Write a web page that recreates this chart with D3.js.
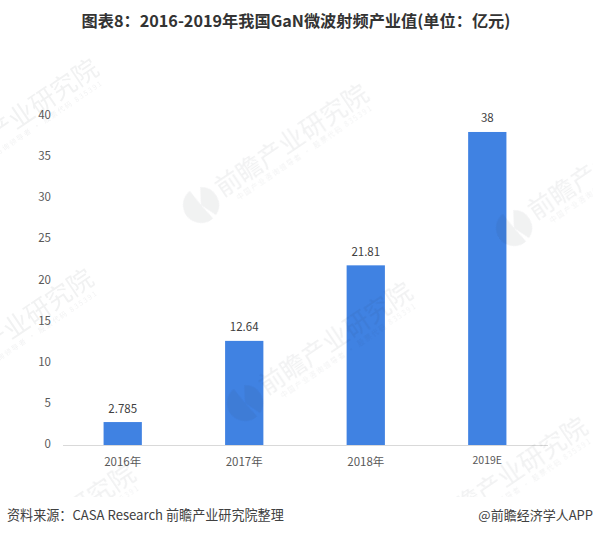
<!DOCTYPE html>
<html><head><meta charset="utf-8">
<script src="https://cdn.jsdelivr.net/npm/d3@7/dist/d3.min.js"></script>
<style>html,body{margin:0;padding:0;background:#fff}svg{display:block}
text{font-family:"Noto Sans CJK SC","Noto Sans",sans-serif}</style></head><body>
<svg id="c" width="593" height="536"></svg>
<script>
const categories=["2016年","2017年","2018年","2019E"];
const values=[2.785,12.64,21.81,38];
const valueLabels=["2.785","12.64","21.81","38"];
const yTicks=[0,5,10,15,20,25,30,35,40];
const titleText="图表8：2016-2019年我国GaN微波射频产业值(单位：亿元)";
const sourceText="资料来源：CASA Research 前瞻产业研究院整理";
const creditText="@前瞻经济学人APP";
const watermarkName="前瞻产业研究院";
const watermarkSub="中国产业咨询领导者 · 股票代码 835391";
const watermarkSpots=[[-69,180],[201,205],[514,228],[-74,390],[245,403],[420,538],[-32,585]];

const svg=d3.select("#c");
const x=d3.scaleBand().domain(categories).range([62.5,547.5]).paddingInner(.685).paddingOuter(.338);
const y=d3.scaleLinear().domain([0,40]).range([445,115.5]);

svg.append("text").attr("x",296).attr("y",27).attr("text-anchor","middle").attr("font-size",16.2).attr("font-weight",700).attr("fill","#333").text(titleText);

const ya=svg.append("g").attr("transform","translate(51,0)").call(d3.axisLeft(y).tickValues(yTicks).tickSize(0).tickPadding(0));
ya.select(".domain").remove();
ya.selectAll("text").attr("font-size",11.5).attr("fill","#595959").attr("font-family",'"Noto Sans CJK SC",sans-serif').attr("dy","0.25em");

svg.selectAll("rect.b").data(values).join("rect").attr("class","b")
 .attr("x",(d,i)=>x(categories[i])).attr("width",x.bandwidth())
 .attr("y",d=>y(d)).attr("height",d=>y(0)-y(d)).attr("fill","#4082e2");

const xa=svg.append("g").attr("transform","translate(0,445)").call(d3.axisBottom(x).tickSize(0).tickPadding(12.5));
xa.select(".domain").attr("stroke","#d9d9d9");
xa.selectAll("text").attr("font-size",11.5).attr("fill","#595959").attr("font-family",'"Noto Sans CJK SC",sans-serif');
xa.selectAll(".tick:last-of-type text").attr("font-size",10.5).attr("dy","0.6em");

svg.selectAll("text.v").data(values).join("text").attr("class","v")
 .attr("x",(d,i)=>x(categories[i])+x.bandwidth()/2).attr("y",d=>y(d)-9.5)
 .attr("text-anchor","middle").attr("font-size",11.5).attr("fill","#404040").text((d,i)=>valueLabels[i]);

// watermarks lie over the chart, clipped above the footer band
svg.append("clipPath").attr("id","wc").append("rect").attr("width",593).attr("height",497);
const arc=d3.arc().innerRadius(0).outerRadius(18);
const wm=svg.append("g").attr("clip-path","url(#wc)").attr("fill","#26303c").attr("opacity",.065);
wm.selectAll("g.w").data(watermarkSpots).join("g").attr("class","w")
 .attr("transform",d=>`translate(${d[0]},${d[1]}) rotate(-34)`)
 .each(function(){
  const g=d3.select(this);
  g.append("path").attr("d",arc({startAngle:.55,endAngle:2.75}));
  g.append("path").attr("d",arc({startAngle:3.0,endAngle:6.2}));
  g.append("text").attr("x",22).attr("y",6).attr("font-size",25.5).text(watermarkName);
  g.append("text").attr("x",34).attr("y",17).attr("font-size",7).attr("letter-spacing",1.6).text(watermarkSub);
 });

svg.append("text").attr("x",7).attr("y",520).attr("font-size",13.1).attr("fill","#404040").text(sourceText);
svg.append("text").attr("x",593).attr("y",520).attr("text-anchor","end").attr("font-size",13).attr("fill","#404040").text(creditText);
</script></body></html>
